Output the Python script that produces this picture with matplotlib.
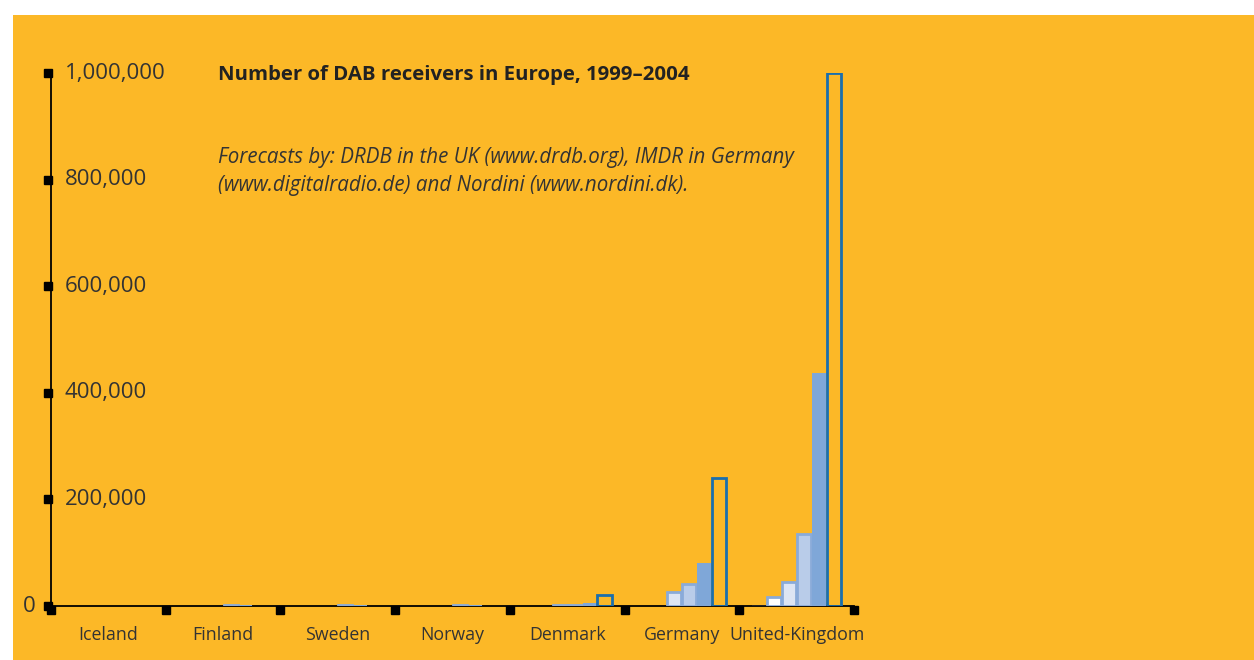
import numpy as np
import matplotlib.pyplot as plt
from matplotlib.patches import Rectangle

countries = ['Iceland', 'Finland', 'Sweden', 'Norway', 'Denmark', 'Germany', 'United-Kingdom']
years = ['1999', '2000', '2001', '2002', '2003', '2004']
r1999 = [0, 0, 0, 0, 0, 0, 2500]
r2000 = [0, 0, 0, 0, 0, 0, 17000]
r2001 = [0, 0, 0, 0, 1500, 26000, 45000]
r2002 = [0, 1500, 1500, 1500, 2500, 41000, 135000]
r2003 = [0, 1000, 1000, 1000, 5500, 80000, 437000]
r2004 = [0, 0, 0, 0, 20000, 240000, 1000000]
yticks = [0, 200000, 400000, 600000, 800000, 1000000]

orange = '#FCB827'
fonts = ['Open Sans', 'DejaVu Sans']
plt.rcParams['font.family'] = fonts

fig = plt.figure(figsize=(12.54, 6.6), dpi=100)
# orange panel with white margin top/left
fig.patches.append(Rectangle((13 / 1254, 0), 1, 1 - 15 / 660, transform=fig.transFigure,
                             facecolor=orange, edgecolor='none', zorder=-10))

ax = fig.add_axes([51 / 1254, 54 / 660, 803 / 1254, 533 / 660])
ax.set_facecolor('none')
ax.set_zorder(2)
ax.set_xlim(0, 7)
ax.set_ylim(0, 1000000)

# bar styles per year
styles = [
    dict(color='#222222'),
    dict(facecolor='white', edgecolor='#8aabd9', linewidth=2),
    dict(facecolor='#dde5f3', edgecolor='#8aabd9', linewidth=2),
    dict(facecolor='#b9cce9', edgecolor='#8aabd9', linewidth=2),
    dict(facecolor='#7fa7d8', edgecolor='none'),
    dict(facecolor='none', edgecolor='#1a6fae', linewidth=2),
]
series = [r1999, r2000, r2001, r2002, r2003, r2004]
w = 0.13
off = (1 - 6 * w) / 2
x = np.arange(len(countries))
for j, (vals, st) in enumerate(zip(series, styles)):
    v = np.array(vals, dtype=float)
    m = v > 0
    ax.bar(x[m] + off + j * w + w / 2, v[m], width=w * 0.94, zorder=3, **st)

for s in ['top', 'right']:
    ax.spines[s].set_visible(False)
ax.spines['left'].set_linewidth(1.3)
ax.spines['bottom'].set_linewidth(1.3)
ax.spines['left'].set_color('black')
ax.spines['bottom'].set_color('black')
ax.set_xticks([])
ax.set_yticks([])

# square tick marks
ax.plot([-0.004] * len(yticks), yticks, 's', color='black', markersize=5.8,
        transform=ax.get_yaxis_transform(), clip_on=False, zorder=5)
ax.plot(np.arange(8), [-0.007] * 8, 's', color='black', markersize=5.8,
        transform=ax.get_xaxis_transform(), clip_on=False, zorder=5)

ytr = ax.get_yaxis_transform()
for t in yticks:
    if t == 0:
        ax.text(-0.019, t, '0', transform=ytr, ha='right', va='center',
                fontsize=16, color='#333333')
    else:
        ax.text(0.0174, t, f'{t:,}', transform=ytr, ha='left', va='center',
                fontsize=16, color='#333333')

xtr = ax.get_xaxis_transform()
for i, c in enumerate(countries):
    ax.text(i + 0.5, -0.054, c, transform=xtr, ha='center', va='center',
            fontsize=12.8, color='#333333')

fig.text(218 / 1254, 1 - 75 / 660, 'Number of DAB receivers in Europe, 1999–2004',
         fontsize=14.7, fontweight='bold', color='#222222', va='center', ha='left')
fig.text(218 / 1254, 1 - 157 / 660,
         'Forecasts by: DRDB in the UK (www.drdb.org), IMDR in Germany',
         fontsize=14.8, style='italic', color='#333333', va='center', ha='left')
fig.text(218 / 1254, 1 - 186 / 660,
         '(www.digitalradio.de) and Nordini (www.nordini.dk).',
         fontsize=14.8, style='italic', color='#333333', va='center', ha='left')

fig.savefig('out.png', dpi=100)
